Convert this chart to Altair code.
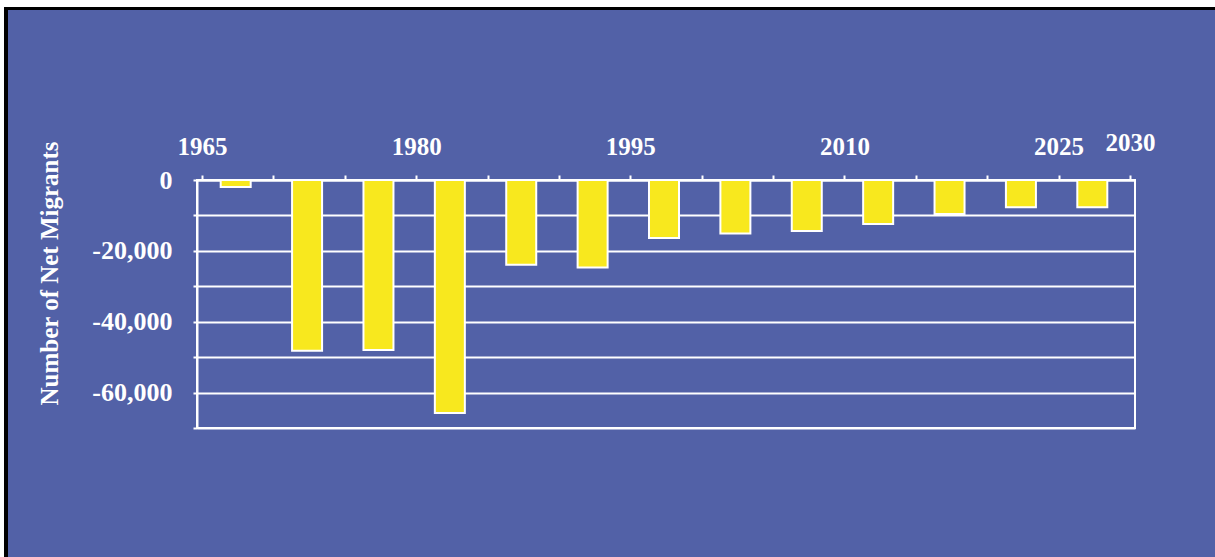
import altair as alt
import pandas as pd

# 5-year periods (start year) and net migrants in each period
period_start = [1965, 1970, 1975, 1980, 1985, 1990, 1995, 2000, 2005, 2010, 2015, 2020, 2025]
net_migrants = [-2000, -48200, -48000, -65800, -23900, -24700, -16400, -15100, -14400, -12400, -9600, -7700, -7700]

year_ticks = [1965, 1970, 1975, 1980, 1985, 1990, 1995, 2000, 2005, 2010, 2015, 2020, 2025, 2030]
year_labels = [1965, 1980, 1995, 2010, 2025, 2030]
y_ticks = [0, -10000, -20000, -30000, -40000, -50000, -60000, -70000]
y_labels = [0, -20000, -40000, -60000]

BLUE = "#5261A7"
YELLOW = "#F8E81E"
FONT = "Liberation Serif"

df = pd.DataFrame({"start": period_start, "value": net_migrants})

label_list = "[" + ",".join(str(v) for v in year_labels) + "]"
ylab_list = "[" + ",".join(str(v) for v in y_labels) + "]"

bars = alt.Chart(df).transform_calculate(
    mid="datum.start + 2.5"
).mark_bar(
    width=30, color=YELLOW, stroke="white", strokeWidth=2, orient="vertical", xOffset=-2
).encode(
    x=alt.X(
        "mid:Q",
        scale=alt.Scale(domain=[1965, 2030], nice=False, zero=False),
        axis=alt.Axis(
            orient="top",
            values=year_ticks,
            labelExpr=f"indexof({label_list}, datum.value) >= 0 ? '' + datum.value : ''",
            labelFont=FONT, labelFontSize=25, labelFontWeight="bold", labelColor="white",
            labelAlign="center",
            labelPadding={"condition": {"test": "datum.value == 2030", "value": 20}, "value": 16},
            labelFlush=False, labelOverlap=False, labelBound=False,
            tickSize=5, tickColor="white", tickWidth=2,
            domainColor="white", domainWidth=2,
            grid=False, title=None,
        ),
    ),
    y=alt.Y(
        "value:Q",
        scale=alt.Scale(domain=[-70000, 0], nice=False, zero=True),
        axis=alt.Axis(
            values=y_ticks,
            labelExpr=f"indexof({ylab_list}, datum.value) >= 0 ? (datum.value < 0 ? '-' : '') + format(abs(datum.value), ',') : ''",
            labelFont=FONT, labelFontSize=26, labelFontWeight="bold", labelColor="white",
            labelAlign="right", labelBaseline="middle",
            labelPadding=21, labelOverlap=False, labelBound=False, labelFlush=False,
            tickSize=4, tickColor="white", tickWidth=2,
            domainColor="white", domainWidth=2,
            grid=True, gridColor="white", gridWidth=2, gridOpacity=1,
            title="Number of Net Migrants",
            titleFont=FONT, titleFontSize=25, titleFontWeight="bold", titleColor="white",
            titleX=-148, titleY=93, titleAngle=270,
            titleAlign="center", titleBaseline="middle",
        ),
    ),
    y2=alt.datum(0),
)

frame_data = alt.Data(values=[{"k": 1}])
# white strips outside the slide and the black slide border
white_top = alt.Chart(frame_data).mark_rect(color="white").encode(
    x=alt.value(-197), x2=alt.value(1018), y=alt.value(-180), y2=alt.value(-173)
)
white_left = alt.Chart(frame_data).mark_rect(color="white").encode(
    x=alt.value(-197), x2=alt.value(-193), y=alt.value(-180), y2=alt.value(377)
)
black_top = alt.Chart(frame_data).mark_rect(color="black").encode(
    x=alt.value(-193), x2=alt.value(1018), y=alt.value(-173), y2=alt.value(-170)
)
black_left = alt.Chart(frame_data).mark_rect(color="black").encode(
    x=alt.value(-193), x2=alt.value(-189), y=alt.value(-173), y2=alt.value(377)
)

chart = alt.layer(bars, white_top, white_left, black_top, black_left).properties(
    width=938, height=248,
    autosize=alt.AutoSizeParams(type="none"),
    padding={"left": 197, "top": 180, "right": 80, "bottom": 129},
).configure(
    background=BLUE,
).configure_view(
    stroke="white", strokeWidth=2, fill=None,
)

chart.save("out.html", embed_options={"renderer": "svg", "actions": False})
